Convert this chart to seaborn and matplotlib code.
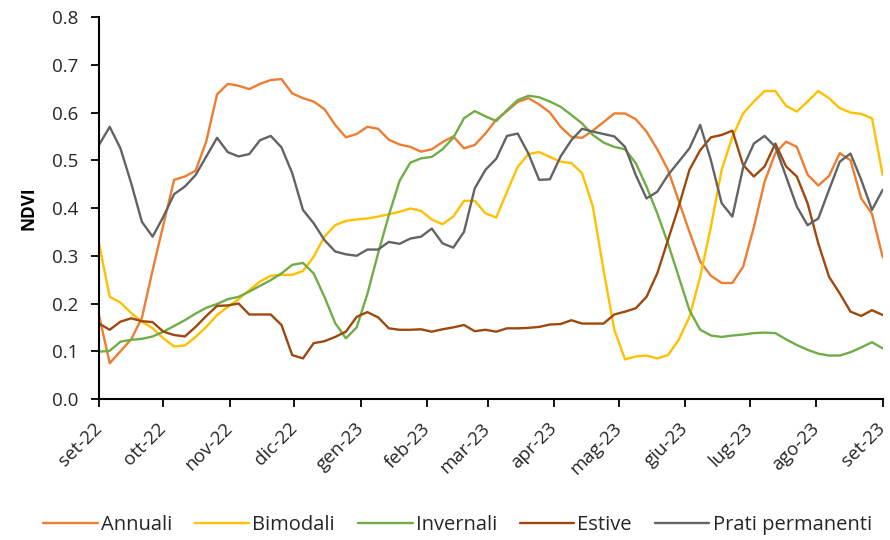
import matplotlib
matplotlib.use("Agg")
import matplotlib.pyplot as plt
import matplotlib.transforms as mtransforms
from matplotlib.lines import Line2D
import numpy as np
import pandas as pd
import seaborn as sns

# Serie NDVI a passo di 5 giorni (01/09/2022 - 01/09/2023)
date = pd.date_range("2022-09-01", "2023-09-01", freq="5D")

annuali = [0.176, 0.075, 0.100, 0.125, 0.170, 0.270, 0.365, 0.459, 0.466, 0.478,
           0.540, 0.638, 0.660, 0.656, 0.649, 0.660, 0.668, 0.670, 0.640, 0.630,
           0.623, 0.607, 0.574, 0.548, 0.555, 0.570, 0.566, 0.543, 0.533, 0.528,
           0.518, 0.523, 0.538, 0.550, 0.525, 0.532, 0.556, 0.585, 0.603, 0.622,
           0.630, 0.617, 0.600, 0.570, 0.549, 0.547, 0.562, 0.580, 0.598, 0.598,
           0.586, 0.560, 0.523, 0.480, 0.415, 0.350, 0.288, 0.258, 0.243, 0.243,
           0.277, 0.360, 0.455, 0.515, 0.539, 0.528, 0.470, 0.447, 0.467, 0.515,
           0.500, 0.420, 0.388, 0.297]

bimodali = [0.326, 0.214, 0.202, 0.180, 0.162, 0.148, 0.127, 0.110, 0.112, 0.130,
            0.151, 0.176, 0.193, 0.209, 0.228, 0.246, 0.258, 0.260, 0.260, 0.268,
            0.298, 0.340, 0.364, 0.373, 0.376, 0.378, 0.382, 0.387, 0.392, 0.399,
            0.394, 0.376, 0.366, 0.382, 0.415, 0.415, 0.389, 0.380, 0.434, 0.486,
            0.513, 0.517, 0.507, 0.497, 0.494, 0.473, 0.403, 0.270, 0.145, 0.083,
            0.089, 0.091, 0.085, 0.092, 0.124, 0.172, 0.256, 0.361, 0.480, 0.549,
            0.598, 0.623, 0.645, 0.645, 0.614, 0.602, 0.623, 0.645, 0.630, 0.609,
            0.600, 0.597, 0.588, 0.469]

invernali = [0.099, 0.101, 0.120, 0.124, 0.126, 0.131, 0.141, 0.153, 0.165, 0.179,
             0.191, 0.199, 0.209, 0.214, 0.225, 0.237, 0.249, 0.263, 0.281, 0.285,
             0.263, 0.214, 0.159, 0.127, 0.150, 0.220, 0.305, 0.385, 0.457, 0.495,
             0.504, 0.507, 0.523, 0.547, 0.588, 0.603, 0.592, 0.582, 0.605, 0.626,
             0.635, 0.632, 0.623, 0.612, 0.595, 0.577, 0.553, 0.537, 0.528, 0.523,
             0.494, 0.445, 0.389, 0.326, 0.256, 0.186, 0.145, 0.133, 0.130, 0.133,
             0.135, 0.138, 0.139, 0.138, 0.125, 0.113, 0.103, 0.095, 0.091, 0.091,
             0.098, 0.108, 0.119, 0.106]

estive = [0.158, 0.145, 0.162, 0.169, 0.163, 0.161, 0.141, 0.134, 0.131, 0.151,
          0.174, 0.195, 0.196, 0.200, 0.177, 0.177, 0.177, 0.155, 0.092, 0.085,
          0.117, 0.121, 0.130, 0.141, 0.172, 0.182, 0.171, 0.148, 0.145, 0.145,
          0.146, 0.141, 0.146, 0.150, 0.155, 0.142, 0.145, 0.141, 0.148, 0.148,
          0.149, 0.151, 0.156, 0.157, 0.165, 0.158, 0.158, 0.158, 0.177, 0.183,
          0.190, 0.214, 0.263, 0.333, 0.403, 0.480, 0.521, 0.548, 0.553, 0.562,
          0.490, 0.466, 0.487, 0.535, 0.487, 0.466, 0.410, 0.326, 0.256, 0.221,
          0.183, 0.174, 0.186, 0.176]

prati = [0.532, 0.570, 0.525, 0.452, 0.371, 0.340, 0.382, 0.429, 0.445, 0.469,
         0.508, 0.547, 0.517, 0.508, 0.513, 0.542, 0.551, 0.527, 0.473, 0.396,
         0.368, 0.333, 0.309, 0.303, 0.300, 0.313, 0.313, 0.329, 0.325, 0.336,
         0.340, 0.357, 0.326, 0.317, 0.350, 0.441, 0.480, 0.503, 0.551, 0.556,
         0.514, 0.459, 0.460, 0.508, 0.542, 0.566, 0.560, 0.555, 0.550, 0.528,
         0.469, 0.420, 0.434, 0.469, 0.497, 0.525, 0.574, 0.500, 0.410, 0.382,
         0.485, 0.535, 0.551, 0.528, 0.466, 0.403, 0.364, 0.378, 0.438, 0.497,
         0.514, 0.459, 0.396, 0.438]

classi = ["Annuali", "Bimodali", "Invernali", "Estive", "Prati permanenti"]
colori = ["#ED7D31", "#FFC000", "#70AD47", "#9E480E", "#636363"]

mesi = ["set-22", "ott-22", "nov-22", "dic-22", "gen-23", "feb-23", "mar-23",
        "apr-23", "mag-23", "giu-23", "lug-23", "ago-23", "set-23"]

serie = [annuali, bimodali, invernali, estive, prati]
df = pd.concat(
    [pd.DataFrame({"data": date, "NDVI": v, "classe": c}) for c, v in zip(classi, serie)],
    ignore_index=True,
)

sns.set_theme(style="white")
plt.rcParams["font.family"] = ["Open Sans", "DejaVu Sans"]

fig = plt.figure(figsize=(8.9, 5.4), dpi=100)
ax = fig.add_axes([0.1112, 0.2611, 0.8806, 0.7074])

sns.lineplot(data=df, x="data", y="NDVI", hue="classe", palette=colori,
             hue_order=classi, linewidth=1.7, ax=ax, legend=False)

tick_date = pd.date_range("2022-09-01", "2023-09-01", freq="MS")
ax.set_xlim(tick_date[0], tick_date[-1])
ax.set_xticks(tick_date)
ax.set_xticklabels(mesi, rotation=45, ha="right", va="center",
                   rotation_mode="anchor", fontsize=13.5, color="#262626")
ax.set_ylim(0, 0.8)
yt = np.arange(0, 0.81, 0.1)
ax.set_yticks(yt)
ax.set_yticklabels([f"{v:.1f}" for v in yt], fontsize=13.5, color="#262626")

ax.tick_params(axis="both", direction="out", length=6, width=1.3,
               color="black", left=True, bottom=True)
ax.tick_params(axis="x", pad=9)
ax.tick_params(axis="y", pad=9)

# small downward shift of the rotated month labels
shift = mtransforms.ScaledTranslation(0.0, -0.06, fig.dpi_scale_trans)
for lab in ax.get_xticklabels():
    lab.set_transform(lab.get_transform() + shift)

for s in ["top", "right"]:
    ax.spines[s].set_visible(False)
for s in ["left", "bottom"]:
    ax.spines[s].set_color("black")
    ax.spines[s].set_linewidth(1.5)

ax.set_xlabel("")
ax.set_ylabel("NDVI", fontsize=12.5, fontweight="bold", color="black", labelpad=10)

handles = [Line2D([0], [0], color=c, lw=1.7) for c in colori]
fig.legend(handles, classi, loc="center", bbox_to_anchor=(0.514, 0.028),
           ncol=5, frameon=False, fontsize=14.5, handlelength=2.7,
           handletextpad=0.15, columnspacing=1.15)

fig.savefig("out.png", dpi=100)
